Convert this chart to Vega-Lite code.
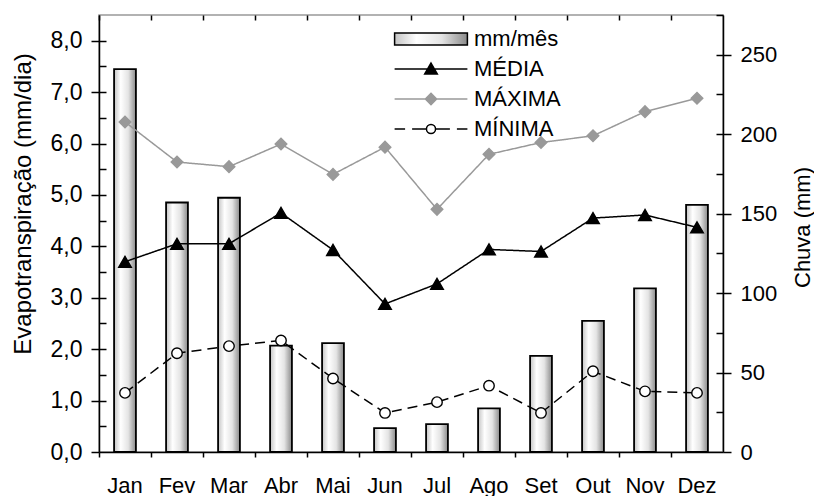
{
  "$schema": "https://vega.github.io/schema/vega-lite/v6.json",
  "width": 624,
  "height": 437,
  "autosize": {"type": "none"},
  "padding": {"left": 99, "top": 15, "right": 91, "bottom": 44},
  "background": "white",
  "datasets": {
    "chuva": [
      {"mes": "Jan", "chuva": 241}, {"mes": "Fev", "chuva": 157}, {"mes": "Mar", "chuva": 160},
      {"mes": "Abr", "chuva": 67}, {"mes": "Mai", "chuva": 68.5}, {"mes": "Jun", "chuva": 15},
      {"mes": "Jul", "chuva": 17.5}, {"mes": "Ago", "chuva": 27.5}, {"mes": "Set", "chuva": 60.5},
      {"mes": "Out", "chuva": 82.5}, {"mes": "Nov", "chuva": 103}, {"mes": "Dez", "chuva": 155.5}
    ],
    "evap": [
      {"serie": "MÉDIA", "mes": "Jan", "valor": 3.70}, {"serie": "MÉDIA", "mes": "Fev", "valor": 4.05},
      {"serie": "MÉDIA", "mes": "Mar", "valor": 4.05}, {"serie": "MÉDIA", "mes": "Abr", "valor": 4.65},
      {"serie": "MÉDIA", "mes": "Mai", "valor": 3.93}, {"serie": "MÉDIA", "mes": "Jun", "valor": 2.88},
      {"serie": "MÉDIA", "mes": "Jul", "valor": 3.27}, {"serie": "MÉDIA", "mes": "Ago", "valor": 3.94},
      {"serie": "MÉDIA", "mes": "Set", "valor": 3.90}, {"serie": "MÉDIA", "mes": "Out", "valor": 4.55},
      {"serie": "MÉDIA", "mes": "Nov", "valor": 4.61}, {"serie": "MÉDIA", "mes": "Dez", "valor": 4.37},
      {"serie": "MÁXIMA", "mes": "Jan", "valor": 6.42}, {"serie": "MÁXIMA", "mes": "Fev", "valor": 5.64},
      {"serie": "MÁXIMA", "mes": "Mar", "valor": 5.55}, {"serie": "MÁXIMA", "mes": "Abr", "valor": 5.99},
      {"serie": "MÁXIMA", "mes": "Mai", "valor": 5.40}, {"serie": "MÁXIMA", "mes": "Jun", "valor": 5.93},
      {"serie": "MÁXIMA", "mes": "Jul", "valor": 4.72}, {"serie": "MÁXIMA", "mes": "Ago", "valor": 5.79},
      {"serie": "MÁXIMA", "mes": "Set", "valor": 6.02}, {"serie": "MÁXIMA", "mes": "Out", "valor": 6.15},
      {"serie": "MÁXIMA", "mes": "Nov", "valor": 6.62}, {"serie": "MÁXIMA", "mes": "Dez", "valor": 6.88},
      {"serie": "MÍNIMA", "mes": "Jan", "valor": 1.15}, {"serie": "MÍNIMA", "mes": "Fev", "valor": 1.92},
      {"serie": "MÍNIMA", "mes": "Mar", "valor": 2.06}, {"serie": "MÍNIMA", "mes": "Abr", "valor": 2.17},
      {"serie": "MÍNIMA", "mes": "Mai", "valor": 1.43}, {"serie": "MÍNIMA", "mes": "Jun", "valor": 0.76},
      {"serie": "MÍNIMA", "mes": "Jul", "valor": 0.97}, {"serie": "MÍNIMA", "mes": "Ago", "valor": 1.29},
      {"serie": "MÍNIMA", "mes": "Set", "valor": 0.76}, {"serie": "MÍNIMA", "mes": "Out", "valor": 1.57},
      {"serie": "MÍNIMA", "mes": "Nov", "valor": 1.18}, {"serie": "MÍNIMA", "mes": "Dez", "valor": 1.15}
    ],
    "legenda": [
      {"serie": "mm/mês"}, {"serie": "MÉDIA"}, {"serie": "MÁXIMA"}, {"serie": "MÍNIMA"}
    ]
  },
  "layer": [
    {
      "data": {"name": "chuva"},
      "layer": [
        {
          "mark": {
            "type": "bar",
            "width": {"band": 0.42},
            "fill": {
              "gradient": "linear", "x1": 0, "y1": 0, "x2": 1, "y2": 0,
              "stops": [
                {"offset": 0, "color": "#c4c4c4"},
                {"offset": 0.3, "color": "#ffffff"},
                {"offset": 0.65, "color": "#e4e4e4"},
                {"offset": 1, "color": "#8a8a8a"}
              ]
            }
          },
          "encoding": {
            "x": {
              "field": "mes", "type": "nominal",
              "scale": {"domain": ["Jan","Fev","Mar","Abr","Mai","Jun","Jul","Ago","Set","Out","Nov","Dez"], "paddingInner": 0, "paddingOuter": 0},
              "axis": {"bandPosition": 0, "tickSize": 5, "labelAngle": 0, "labelPadding": 18, "title": null, "domain": true}
            },
            "y": {
              "field": "chuva", "type": "quantitative",
              "scale": {"domain": [0, 275], "nice": false, "zero": true},
              "axis": {
                "orient": "right", "values": [0, 50, 100, 150, 200, 250], "tickSize": 8, "labelPadding": 9,
                "title": "Chuva (mm)", "titleFontSize": 22, "titleAngle": 270, "titleAlign": "center", "titleBaseline": "middle",
                "titleX": 79, "titleY": 212
              }
            }
          }
        },
        {
          "mark": {"type": "bar", "width": {"band": 0.42}, "fillOpacity": 0, "stroke": "black", "strokeWidth": 1.8},
          "encoding": {
            "x": {"field": "mes", "type": "nominal"},
            "y": {
              "field": "chuva", "type": "quantitative",
              "axis": {"orient": "right", "values": [25, 50, 75, 100, 125, 150, 175, 200, 225, 250, 275], "tickSize": -7, "labels": false, "domain": false, "title": null}
            }
          }
        }
      ],
      "resolve": {"axis": {"y": "independent"}}
    },
    {
      "data": {"name": "evap"},
      "layer": [
        {
          "mark": {"type": "line", "strokeWidth": 1.5},
          "encoding": {
            "x": {
              "field": "mes", "type": "nominal",
              "axis": {"bandPosition": 0, "tickSize": -5, "labels": false, "domain": false, "title": null}
            },
            "y": {
              "field": "valor", "type": "quantitative",
              "scale": {"domain": [0, 8.5], "nice": false},
              "axis": {
                "orient": "left", "values": [0, 1, 2, 3, 4, 5, 6, 7, 8], "tickSize": 8, "labelPadding": 9,
                "labelFontSize": 23,
                "labelExpr": "replace(format(datum.value, '.1f'), '.', ',')",
                "title": "Evapotranspiração (mm/dia)", "titleFontSize": 24, "titleAngle": 270, "titleAlign": "center", "titleBaseline": "middle",
                "titleX": -76, "titleY": 188.5
              }
            },
            "stroke": {
              "field": "serie", "type": "nominal",
              "scale": {"domain": ["MÉDIA", "MÁXIMA", "MÍNIMA"], "range": ["black", "#999999", "black"]},
              "legend": null
            },
            "strokeDash": {
              "field": "serie", "type": "nominal",
              "scale": {"domain": ["MÉDIA", "MÁXIMA", "MÍNIMA"], "range": [[1, 0], [1, 0], [10, 6]]},
              "legend": null
            }
          }
        },
        {
          "mark": {"type": "point", "filled": true, "opacity": 1, "strokeWidth": 1.4},
          "encoding": {
            "x": {"field": "mes", "type": "nominal"},
            "y": {
              "field": "valor", "type": "quantitative",
              "axis": {
                "orient": "left", "values": [0.5, 1, 1.5, 2, 2.5, 3, 3.5, 4, 4.5, 5, 5.5, 6, 6.5, 7, 7.5, 8],
                "tickSize": -7, "labels": false, "domain": false, "title": null
              }
            },
            "shape": {
              "field": "serie", "type": "nominal",
              "scale": {"domain": ["MÉDIA", "MÁXIMA", "MÍNIMA"], "range": ["triangle-up", "diamond", "circle"]},
              "legend": null
            },
            "fill": {
              "field": "serie", "type": "nominal",
              "scale": {"domain": ["MÉDIA", "MÁXIMA", "MÍNIMA"], "range": ["black", "#999999", "white"]},
              "legend": null
            },
            "stroke": {
              "field": "serie", "type": "nominal",
              "legend": null
            },
            "size": {
              "field": "serie", "type": "nominal",
              "scale": {"domain": ["MÉDIA", "MÁXIMA", "MÍNIMA"], "range": [160, 110, 70]},
              "legend": null
            }
          }
        }
      ],
      "resolve": {"axis": {"y": "independent"}}
    },
    {
      "data": {"name": "legenda"},
      "mark": {"type": "point", "filled": true, "opacity": 0, "strokeWidth": 1.5},
      "encoding": {
        "shape": {
          "field": "serie", "type": "nominal",
          "scale": {
            "domain": ["mm/mês", "MÉDIA", "MÁXIMA", "MÍNIMA"],
            "range": [
              "M-5.2,-0.85H5.2V0.85H-5.2Z",
              "M-5.2,0H5.2M0,-0.85L0.9,0.7L-0.9,0.7Z",
              "M-5.2,0H5.2M0,-0.8L0.8,0L0,0.8L-0.8,0Z",
              "M-5.2,0H-3.7M-2.7,0H-0.65M0.65,0H2.7M3.7,0H5.2M0.65,0A0.65,0.65 0 1 1 -0.65,0A0.65,0.65 0 1 1 0.65,0Z"
            ]
          },
          "legend": {
            "title": null, "orient": "none", "legendX": 321, "legendY": 13,
            "symbolSize": 196, "symbolStrokeWidth": 1.5, "symbolOpacity": 1, "labelFontSize": 22, "labelOffset": 32,
            "rowPadding": 8, "padding": 0, "labelColor": "black", "labelFont": "Liberation Sans"
          }
        },
        "fill": {
          "field": "serie", "type": "nominal",
          "scale": {
            "domain": ["mm/mês", "MÉDIA", "MÁXIMA", "MÍNIMA"],
            "range": [
              {"expr": "{gradient: 'linear', x1: 0, y1: 0, x2: 1, y2: 0, stops: [{offset: 0, color: '#c4c4c4'}, {offset: 0.3, color: '#ffffff'}, {offset: 0.65, color: '#e4e4e4'}, {offset: 1, color: '#8a8a8a'}]}"},
              "black", "#999999", "white"
            ]
          }
        },
        "stroke": {
          "field": "serie", "type": "nominal",
          "scale": {"domain": ["mm/mês", "MÉDIA", "MÁXIMA", "MÍNIMA"], "range": ["black", "black", "#999999", "black"]}
        }
      }
    }
  ],
  "resolve": {"scale": {"y": "independent", "shape": "independent", "fill": "independent", "stroke": "independent"}, "axis": {"x": "independent"}},
  "config": {
    "font": "Liberation Sans",
    "view": {"stroke": "#999999", "strokeWidth": 1.5},
    "axis": {
      "grid": false, "labelFontSize": 22, "titleFontSize": 22, "labelColor": "black", "titleColor": "black",
      "domainColor": "black", "tickColor": "black", "domainWidth": 1.5, "tickWidth": 1.5,
      "labelFont": "Liberation Sans", "titleFont": "Liberation Sans", "titleFontWeight": "normal"
    }
  }
}
